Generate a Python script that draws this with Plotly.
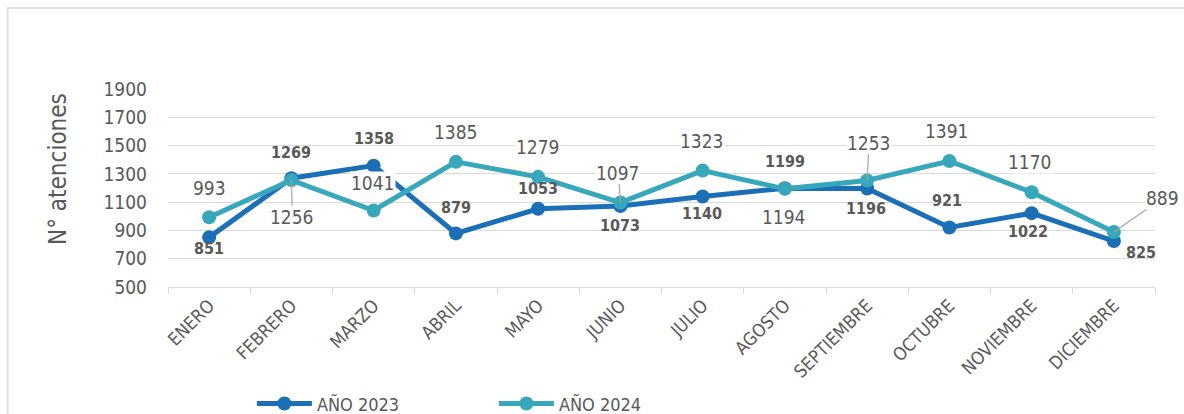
import plotly.graph_objects as go

months = ["ENERO", "FEBRERO", "MARZO", "ABRIL", "MAYO", "JUNIO", "JULIO",
          "AGOSTO", "SEPTIEMBRE", "OCTUBRE", "NOVIEMBRE", "DICIEMBRE"]
y2023 = [851, 1269, 1358, 879, 1053, 1073, 1140, 1199, 1196, 921, 1022, 825]
y2024 = [993, 1256, 1041, 1385, 1279, 1097, 1323, 1194, 1253, 1391, 1170, 889]
y_ticks = [500, 700, 900, 1100, 1300, 1500, 1700, 1900]

C23 = "#1a6fb6"
C24 = "#37a8bb"
TXT = "#595959"
FONT = "DejaVu Sans Condensed, Liberation Sans, sans-serif"

# label offsets in pixels (dx, dy) ; positive dy = up
off23 = [(0, -11), (0, 26), (0, 27), (0, 26), (0, 20), (0, -20),
         (-1, -17), (0, 27), (-1, -20), (-2, 27), (-4, -18), (27, -11)]
off24 = [(0, 29), (1, -37), (-1, 27), (0, 30), (0, 30), (-2, 30),
         (-1, 30), (-1, -28), (2, 38), (-2, 30), (-2, 30), (49, 34)]
leader24 = {1, 8, 11, 5}

fig = go.Figure()
fig.add_trace(go.Scatter(x=months, y=y2023, name="AÑO 2023", mode="lines+markers",
                         line=dict(color=C23, width=5), marker=dict(size=14, color=C23)))
fig.add_trace(go.Scatter(x=months, y=y2024, name="AÑO 2024", mode="lines+markers",
                         line=dict(color=C24, width=5), marker=dict(size=14, color=C24)))

for i, (m, v) in enumerate(zip(months, y2023)):
    dx, dy = off23[i]
    fig.add_annotation(x=m, y=v, text=f"<b>{v}</b>", showarrow=False,
                       xshift=dx, yshift=dy, font=dict(size=16, color=TXT, family=FONT))
for i, (m, v) in enumerate(zip(months, y2024)):
    dx, dy = off24[i]
    if i in leader24:
        fig.add_annotation(x=m, y=v, text=str(v), showarrow=True, arrowhead=0,
                           arrowwidth=1.2, arrowcolor="#a6a6a6", ax=dx, ay=-dy,
                           standoff=0, font=dict(size=19, color=TXT, family=FONT),
                           bgcolor="white", borderpad=0)
    else:
        fig.add_annotation(x=m, y=v, text=str(v), showarrow=False,
                           xshift=dx, yshift=dy, font=dict(size=19, color=TXT, family=FONT),
                           bgcolor="white", borderpad=0)

# y-axis title
fig.add_annotation(xref="paper", yref="paper", x=-0.1115, y=0.596, text="N° atenciones",
                   textangle=-90, showarrow=False, xanchor="center", yanchor="middle",
                   font=dict(size=24, color=TXT, family=FONT))

# chart frame (left and top edges)
fig.add_shape(type="line", xref="paper", yref="paper", x0=-0.1625, x1=-0.1625,
              y0=-0.7, y1=1.414, line=dict(color="#e0e0e0", width=2), layer="below")
fig.add_shape(type="line", xref="paper", yref="paper", x0=-0.1625, x1=1.04,
              y0=1.409, y1=1.409, line=dict(color="#e0e0e0", width=2), layer="below")

fig.update_layout(
    width=1184, height=414,
    margin=dict(l=168, r=29, t=89, b=127, autoexpand=False),
    paper_bgcolor="white", plot_bgcolor="white",
    font=dict(family=FONT, color=TXT),
    showlegend=True,
    legend=dict(orientation="h", x=0.085, y=-0.59, xanchor="left", yanchor="middle",
                font=dict(size=18, color=TXT, family=FONT), itemwidth=55,
                entrywidth=172, entrywidthmode="pixels", traceorder="normal"),
)
fig.update_xaxes(type="category", range=[-0.5, 11.5], tickangle=-45, automargin=False,
                 showgrid=False, showline=True, linecolor="#d9d9d9", linewidth=1,
                 ticks="outside", tickson="boundaries", ticklen=6, tickcolor="#d9d9d9",
                 tickfont=dict(size=18, color=TXT, family=FONT))
fig.update_yaxes(range=[500, 1900], tickvals=y_ticks, showgrid=True, automargin=False,
                 gridcolor="#d9d9d9", gridwidth=1, zeroline=False, showline=False,
                 ticklabelstandoff=20,
                 tickfont=dict(size=19, color=TXT, family=FONT))

fig.write_html("out.html", config={"displayModeBar": False},
               post_script="document.body.style.margin='0';document.body.style.overflow='hidden';")
